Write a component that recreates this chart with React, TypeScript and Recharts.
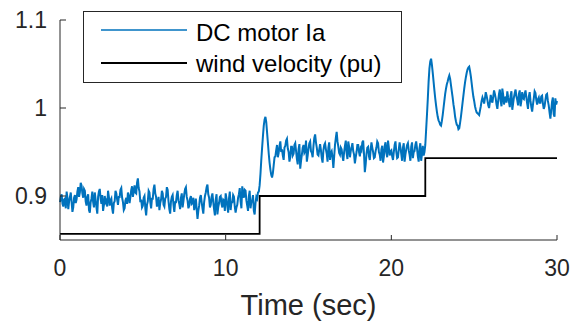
import { LineChart, Line, XAxis, YAxis, Legend, Label } from "recharts";

const FONT = "'Liberation Sans', Arial, Helvetica, sans-serif";
const AXIS = "#262626";
const BLUE = "#0072BD";

// DC motor armature current, sampled every 0.05 s from t = 0 to t = 30 (one row per second)
const sampleStep = 0.05;
const motorIa = [
  0.893, 0.899, 0.902, 0.891, 0.888, 0.896, 0.897, 0.886, 0.905, 0.898, 0.885, 0.894, 0.899, 0.904, 0.893, 0.882, 0.887, 0.898, 0.901, 0.892,
  0.896, 0.905, 0.910, 0.899, 0.904, 0.915, 0.912, 0.903, 0.898, 0.908, 0.906, 0.894, 0.889, 0.899, 0.902, 0.884, 0.881, 0.893, 0.897, 0.905,
  0.893, 0.887, 0.904, 0.896, 0.887, 0.880, 0.899, 0.905, 0.908, 0.897, 0.891, 0.901, 0.883, 0.890, 0.900, 0.893, 0.895, 0.888, 0.906, 0.899,
  0.889, 0.895, 0.897, 0.886, 0.880, 0.892, 0.894, 0.906, 0.903, 0.896, 0.890, 0.899, 0.899, 0.907, 0.909, 0.898, 0.893, 0.884, 0.886, 0.895,
  0.898, 0.891, 0.904, 0.900, 0.892, 0.899, 0.907, 0.911, 0.899, 0.905, 0.912, 0.904, 0.903, 0.915, 0.920, 0.909, 0.905, 0.893, 0.896, 0.887,
  0.889, 0.898, 0.900, 0.886, 0.878, 0.890, 0.894, 0.906, 0.904, 0.893, 0.886, 0.897, 0.897, 0.908, 0.913, 0.903, 0.899, 0.888, 0.891, 0.899,
  0.884, 0.892, 0.896, 0.906, 0.903, 0.890, 0.888, 0.897, 0.899, 0.910, 0.907, 0.894, 0.885, 0.880, 0.894, 0.899, 0.901, 0.890, 0.882, 0.893,
  0.893, 0.901, 0.906, 0.895, 0.891, 0.885, 0.898, 0.903, 0.887, 0.894, 0.902, 0.908, 0.910, 0.899, 0.895, 0.886, 0.889, 0.897, 0.900, 0.891,
  0.892, 0.898, 0.884, 0.889, 0.897, 0.885, 0.874, 0.883, 0.889, 0.898, 0.901, 0.893, 0.886, 0.880, 0.893, 0.900, 0.904, 0.910, 0.913, 0.902,
  0.898, 0.887, 0.890, 0.899, 0.903, 0.893, 0.885, 0.878, 0.896, 0.902, 0.879, 0.887, 0.892, 0.899, 0.900, 0.891, 0.887, 0.896, 0.895, 0.883,
  0.903, 0.897, 0.888, 0.881, 0.897, 0.905, 0.884, 0.893, 0.893, 0.901, 0.899, 0.888, 0.881, 0.887, 0.890, 0.898, 0.902, 0.909, 0.894, 0.886,
  0.911, 0.903, 0.898, 0.907, 0.906, 0.895, 0.889, 0.883, 0.900, 0.906, 0.886, 0.893, 0.895, 0.901, 0.883, 0.879, 0.892, 0.899, 0.897, 0.904,
  0.905, 0.912, 0.925, 0.941, 0.955, 0.968, 0.980, 0.987, 0.990, 0.984, 0.972, 0.960, 0.948, 0.938, 0.930, 0.924, 0.921, 0.926, 0.935, 0.944,
  0.945, 0.952, 0.958, 0.944, 0.949, 0.957, 0.962, 0.950, 0.953, 0.946, 0.941, 0.955, 0.957, 0.963, 0.965, 0.954, 0.950, 0.939, 0.944, 0.956,
  0.956, 0.946, 0.948, 0.958, 0.960, 0.951, 0.942, 0.936, 0.953, 0.959, 0.931, 0.940, 0.947, 0.955, 0.958, 0.949, 0.951, 0.963, 0.939, 0.946,
  0.954, 0.960, 0.962, 0.951, 0.949, 0.944, 0.957, 0.966, 0.970, 0.961, 0.955, 0.947, 0.946, 0.953, 0.959, 0.952, 0.943, 0.938, 0.952, 0.958,
  0.960, 0.953, 0.948, 0.939, 0.955, 0.961, 0.941, 0.949, 0.951, 0.944, 0.932, 0.945, 0.958, 0.966, 0.973, 0.962, 0.956, 0.949, 0.947, 0.955,
  0.953, 0.945, 0.940, 0.950, 0.957, 0.963, 0.949, 0.942, 0.962, 0.956, 0.944, 0.951, 0.955, 0.960, 0.951, 0.947, 0.937, 0.944, 0.950, 0.958,
  0.958, 0.950, 0.945, 0.954, 0.952, 0.961, 0.963, 0.948, 0.927, 0.936, 0.948, 0.955, 0.956, 0.945, 0.941, 0.952, 0.961, 0.955, 0.950, 0.943,
  0.944, 0.951, 0.955, 0.962, 0.960, 0.950, 0.947, 0.940, 0.953, 0.957, 0.938, 0.945, 0.957, 0.961, 0.949, 0.944, 0.963, 0.955, 0.946, 0.951,
  0.952, 0.945, 0.941, 0.950, 0.958, 0.962, 0.950, 0.943, 0.944, 0.953, 0.961, 0.955, 0.948, 0.940, 0.955, 0.960, 0.939, 0.947, 0.953, 0.958,
  0.960, 0.952, 0.947, 0.940, 0.956, 0.961, 0.943, 0.950, 0.951, 0.958, 0.962, 0.954, 0.945, 0.939, 0.954, 0.960, 0.940, 0.948, 0.957, 0.946,
  0.950, 0.958, 0.975, 0.992, 1.010, 1.030, 1.045, 1.053, 1.056, 1.049, 1.040, 1.030, 1.020, 1.011, 1.003, 0.996, 0.990, 0.986, 0.984, 0.981,
  0.980, 0.985, 0.992, 1.000, 1.008, 1.016, 1.022, 1.027, 1.030, 1.034, 1.037, 1.033, 1.026, 1.019, 1.012, 1.004, 0.998, 0.990, 0.985, 0.981,
  0.980, 0.976, 0.977, 0.983, 0.990, 0.998, 1.006, 1.014, 1.022, 1.029, 1.035, 1.040, 1.044, 1.046, 1.047, 1.042, 1.036, 1.028, 1.020, 1.013,
  1.008, 1.002, 0.998, 0.995, 0.994, 0.993, 0.992, 0.997, 1.002, 1.008, 1.012, 1.009, 1.005, 1.011, 1.018, 1.014, 1.009, 1.003, 1.000, 1.007,
  1.015, 1.009, 1.006, 1.013, 1.020, 1.016, 1.011, 1.004, 0.999, 1.008, 1.016, 1.021, 1.008, 1.002, 1.022, 1.015, 1.004, 1.010, 1.013, 1.006,
  1.019, 1.012, 1.007, 1.001, 1.014, 1.019, 0.998, 1.005, 1.012, 1.017, 1.021, 1.013, 1.009, 1.003, 1.016, 1.020, 1.002, 1.008, 1.018, 1.011,
  1.010, 1.016, 1.020, 1.012, 1.005, 0.999, 1.013, 1.018, 1.008, 1.001, 0.996, 1.004, 1.011, 1.019, 1.017, 1.009, 1.004, 1.010, 1.012, 1.006,
  1.006, 1.013, 1.014, 1.005, 0.999, 1.002, 1.009, 1.015, 1.016, 1.008, 1.003, 0.995, 0.988, 0.997, 1.007, 1.012, 0.993, 0.990, 1.011, 1.004,
  1.008,
];

// wind velocity steps (pu)
const windTimes = [0, 12.05, 22.05, 30];
const windValues = [0.857, 0.9, 0.943, 0.943];

const xTicks = [0, 10, 20, 30];
const yTicks = [0.9, 1, 1.1];

const iaData = motorIa.map((v, i) => ({ t: Math.round(i * sampleStep * 100) / 100, ia: v }));
const windData = windTimes.map((t, i) => ({ t, wind: windValues[i] }));

function LegendBox() {
  return (
    <svg width={320} height={73} style={{ display: "block" }}>
      <rect x={0.5} y={0.5} width={318} height={71} fill="#fff" stroke={AXIS} strokeWidth={1} />
      <line x1={18} x2={104} y1={19} y2={19} stroke={BLUE} strokeWidth={1.5} />
      <text x={113} y={29.7} fontSize={24} fill="#000" fontFamily={FONT}>
        DC motor Ia
      </text>
      <line x1={18} x2={104} y1={52} y2={52} stroke="#000" strokeWidth={1.8} />
      <text x={113} y={61.3} fontSize={24} fill="#000" fontFamily={FONT}>
        wind velocity (pu)
      </text>
    </svg>
  );
}

export default function App() {
  return (
    <div style={{ position: "absolute", left: 0, top: 0, fontFamily: FONT }}>
      <LineChart width={571} height={323} margin={{ top: 20, right: 14, bottom: 0, left: 0 }}>
        <XAxis
          dataKey="t"
          type="number"
          domain={[0, 30]}
          ticks={xTicks}
          height={83}
          tickSize={-5}
          tickMargin={25}
          stroke={AXIS}
          tick={{ fill: AXIS, fontSize: 23, fontFamily: FONT }}
          allowDuplicatedCategory={false}
        >
          <Label
            value="Time (sec)"
            position="insideBottom"
            offset={8}
            fill={AXIS}
            fontSize={29}
            fontFamily={FONT}
          />
        </XAxis>
        <YAxis
          type="number"
          domain={[0.85, 1.1]}
          ticks={yTicks}
          width={60}
          tickSize={-6}
          tickMargin={19}
          stroke={AXIS}
          tick={{ fill: AXIS, fontSize: 23, fontFamily: FONT }}
        />
        <Legend
          layout="horizontal"
          verticalAlign="middle"
          align="center"
          wrapperStyle={{ left: 83, top: 11, width: 320, height: 73 }}
          content={() => <LegendBox />}
        />
        <Line
          data={windData}
          dataKey="wind"
          type="stepAfter"
          stroke="#000"
          strokeWidth={1.8}
          dot={false}
          isAnimationActive={false}
        />
        <Line
          data={iaData}
          dataKey="ia"
          type="linear"
          stroke={BLUE}
          strokeWidth={2}
          dot={false}
          isAnimationActive={false}
        />
      </LineChart>
    </div>
  );
}
